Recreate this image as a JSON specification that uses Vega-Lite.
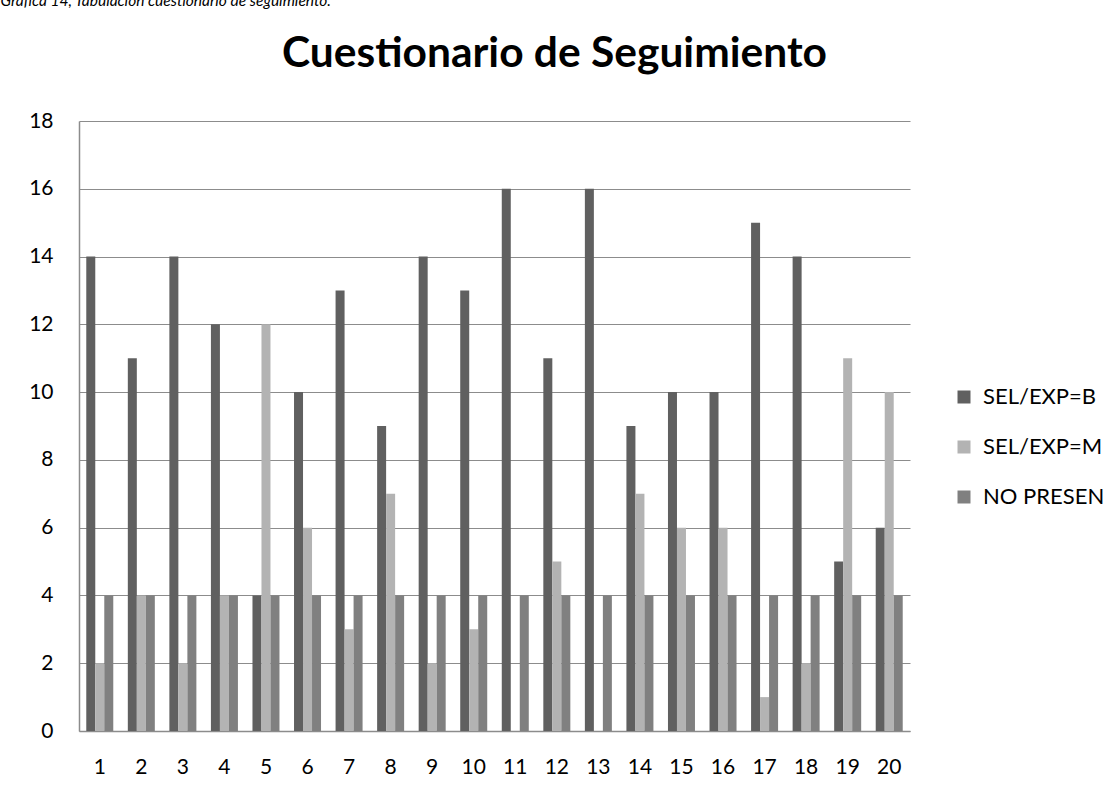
{
  "$schema": "https://vega.github.io/schema/vega-lite/v6.json",
  "width": 831,
  "height": 610,
  "autosize": {"type": "none"},
  "padding": {"left": 79, "top": 121, "right": 204, "bottom": 60},
  "background": "white",
  "title": {
    "text": "Cuestionario de Seguimiento",
    "anchor": "middle",
    "frame": "group",
    "baseline": "alphabetic",
    "dx": 60,
    "dy": 116,
    "offset": 0,
    "font": "Lato",
    "fontSize": 42.5,
    "fontWeight": "bold",
    "color": "#000000"
  },
  "data": {
    "values": [
      {"q": 1, "serie": "SEL/EXP=B", "valor": 14}, {"q": 1, "serie": "SEL/EXP=M", "valor": 2}, {"q": 1, "serie": "NO PRESEN", "valor": 4},
      {"q": 2, "serie": "SEL/EXP=B", "valor": 11}, {"q": 2, "serie": "SEL/EXP=M", "valor": 4}, {"q": 2, "serie": "NO PRESEN", "valor": 4},
      {"q": 3, "serie": "SEL/EXP=B", "valor": 14}, {"q": 3, "serie": "SEL/EXP=M", "valor": 2}, {"q": 3, "serie": "NO PRESEN", "valor": 4},
      {"q": 4, "serie": "SEL/EXP=B", "valor": 12}, {"q": 4, "serie": "SEL/EXP=M", "valor": 4}, {"q": 4, "serie": "NO PRESEN", "valor": 4},
      {"q": 5, "serie": "SEL/EXP=B", "valor": 4}, {"q": 5, "serie": "SEL/EXP=M", "valor": 12}, {"q": 5, "serie": "NO PRESEN", "valor": 4},
      {"q": 6, "serie": "SEL/EXP=B", "valor": 10}, {"q": 6, "serie": "SEL/EXP=M", "valor": 6}, {"q": 6, "serie": "NO PRESEN", "valor": 4},
      {"q": 7, "serie": "SEL/EXP=B", "valor": 13}, {"q": 7, "serie": "SEL/EXP=M", "valor": 3}, {"q": 7, "serie": "NO PRESEN", "valor": 4},
      {"q": 8, "serie": "SEL/EXP=B", "valor": 9}, {"q": 8, "serie": "SEL/EXP=M", "valor": 7}, {"q": 8, "serie": "NO PRESEN", "valor": 4},
      {"q": 9, "serie": "SEL/EXP=B", "valor": 14}, {"q": 9, "serie": "SEL/EXP=M", "valor": 2}, {"q": 9, "serie": "NO PRESEN", "valor": 4},
      {"q": 10, "serie": "SEL/EXP=B", "valor": 13}, {"q": 10, "serie": "SEL/EXP=M", "valor": 3}, {"q": 10, "serie": "NO PRESEN", "valor": 4},
      {"q": 11, "serie": "SEL/EXP=B", "valor": 16}, {"q": 11, "serie": "SEL/EXP=M", "valor": 0}, {"q": 11, "serie": "NO PRESEN", "valor": 4},
      {"q": 12, "serie": "SEL/EXP=B", "valor": 11}, {"q": 12, "serie": "SEL/EXP=M", "valor": 5}, {"q": 12, "serie": "NO PRESEN", "valor": 4},
      {"q": 13, "serie": "SEL/EXP=B", "valor": 16}, {"q": 13, "serie": "SEL/EXP=M", "valor": 0}, {"q": 13, "serie": "NO PRESEN", "valor": 4},
      {"q": 14, "serie": "SEL/EXP=B", "valor": 9}, {"q": 14, "serie": "SEL/EXP=M", "valor": 7}, {"q": 14, "serie": "NO PRESEN", "valor": 4},
      {"q": 15, "serie": "SEL/EXP=B", "valor": 10}, {"q": 15, "serie": "SEL/EXP=M", "valor": 6}, {"q": 15, "serie": "NO PRESEN", "valor": 4},
      {"q": 16, "serie": "SEL/EXP=B", "valor": 10}, {"q": 16, "serie": "SEL/EXP=M", "valor": 6}, {"q": 16, "serie": "NO PRESEN", "valor": 4},
      {"q": 17, "serie": "SEL/EXP=B", "valor": 15}, {"q": 17, "serie": "SEL/EXP=M", "valor": 1}, {"q": 17, "serie": "NO PRESEN", "valor": 4},
      {"q": 18, "serie": "SEL/EXP=B", "valor": 14}, {"q": 18, "serie": "SEL/EXP=M", "valor": 2}, {"q": 18, "serie": "NO PRESEN", "valor": 4},
      {"q": 19, "serie": "SEL/EXP=B", "valor": 5}, {"q": 19, "serie": "SEL/EXP=M", "valor": 11}, {"q": 19, "serie": "NO PRESEN", "valor": 4},
      {"q": 20, "serie": "SEL/EXP=B", "valor": 6}, {"q": 20, "serie": "SEL/EXP=M", "valor": 10}, {"q": 20, "serie": "NO PRESEN", "valor": 4}
    ]
  },
  "mark": {"type": "bar"},
  "encoding": {
    "x": {
      "field": "q",
      "type": "ordinal",
      "scale": {"paddingInner": 0.35, "paddingOuter": 0.175},
      "axis": {
        "title": null,
        "labelAngle": 0,
        "labelFont": "Lato",
        "labelFontSize": 21,
        "labelColor": "#000000",
        "labelPadding": 25,
        "ticks": false,
        "domainColor": "#8c8c8c",
        "domainWidth": 1.5,
        "grid": false
      }
    },
    "xOffset": {"field": "serie", "sort": ["SEL/EXP=B", "SEL/EXP=M", "NO PRESEN"]},
    "y": {
      "field": "valor",
      "type": "quantitative",
      "scale": {"domain": [0, 18], "nice": false},
      "axis": {
        "values": [0, 2, 4, 6, 8, 10, 12, 14, 16, 18],
        "title": "Gráfica 14, Tabulación cuestionario de seguimiento.",
        "titleAngle": 0,
        "titleAlign": "left",
        "titleBaseline": "alphabetic",
        "titleX": -79,
        "titleY": -116,
        "titleFont": "Lato",
        "titleFontSize": 15.5,
        "titleFontStyle": "italic",
        "titleFontWeight": "normal",
        "titleColor": "#000000",
        "labelFont": "Lato",
        "labelFontSize": 21,
        "labelColor": "#000000",
        "labelPadding": 26,
        "ticks": false,
        "domainColor": "#8c8c8c",
        "domainWidth": 1.5,
        "gridColor": "#8c8c8c",
        "gridWidth": 1.2,
        "gridOpacity": 1
      }
    },
    "color": {
      "field": "serie",
      "type": "nominal",
      "sort": ["SEL/EXP=B", "SEL/EXP=M", "NO PRESEN"],
      "scale": {"domain": ["SEL/EXP=B", "SEL/EXP=M", "NO PRESEN"], "range": ["#606060", "#b3b3b3", "#808080"]},
      "legend": {
        "title": null,
        "orient": "none",
        "legendX": 874,
        "legendY": 265,
        "symbolType": "square",
        "symbolSize": 169,
        "symbolStrokeWidth": 0,
        "symbolOpacity": 1,
        "labelFont": "Lato",
        "labelFontSize": 22,
        "labelColor": "#000000",
        "labelOffset": 8,
        "rowPadding": 28
      }
    }
  },
  "config": {
    "view": {"stroke": null}
  }
}
